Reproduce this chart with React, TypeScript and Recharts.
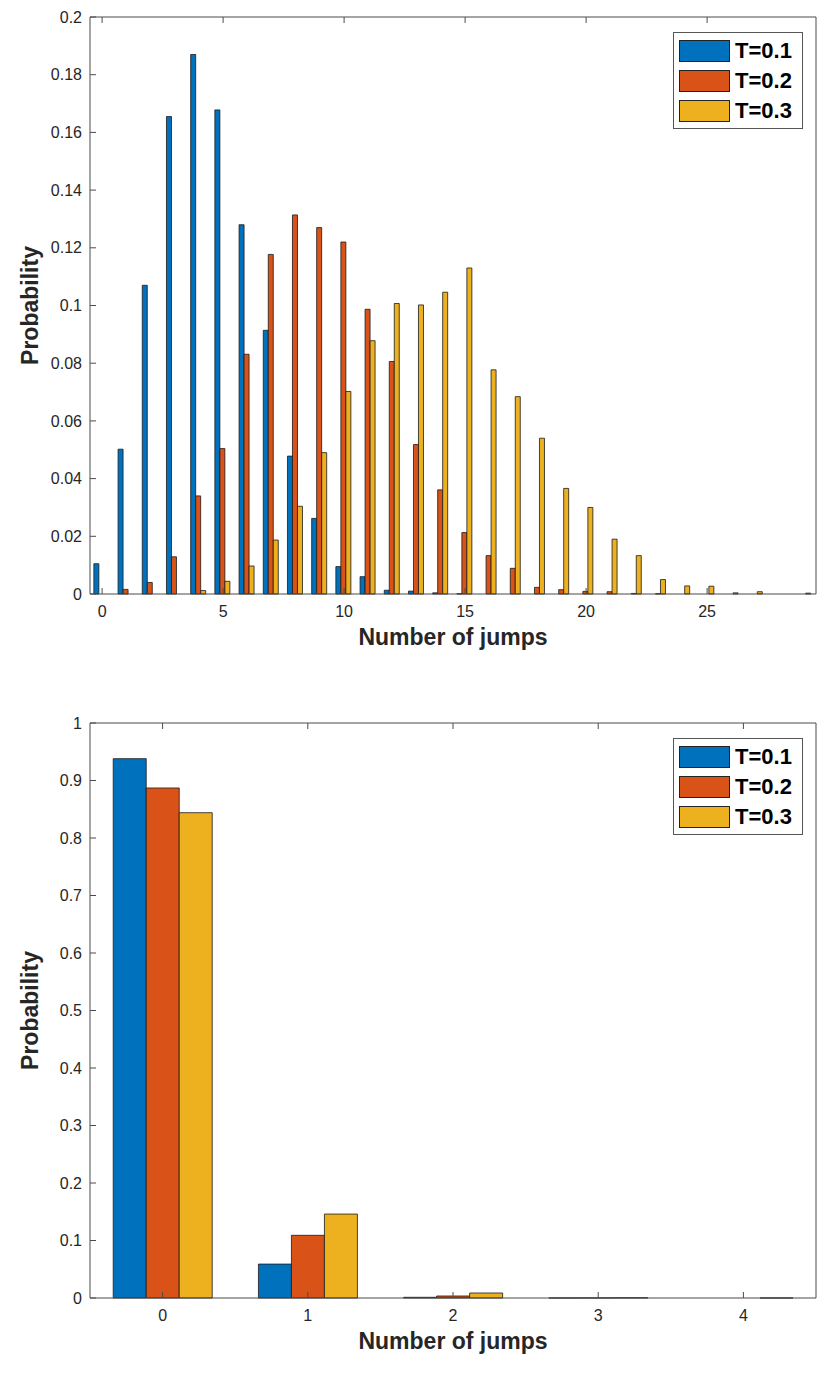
import React from "react";
import { BarChart, Bar, XAxis, YAxis, Legend, Label } from "recharts";

// number of jumps on the x axis
const jumpsTop = [
  0, 1, 2, 3, 4, 5, 6, 7, 8, 9, 10, 11, 12, 13, 14, 15, 16, 17, 18, 19, 20,
  21, 22, 23, 24, 25, 26, 27, 28, 29,
];
const topT1 = [
  0.0105, 0.0502, 0.107, 0.1655, 0.187, 0.1678, 0.128, 0.0914, 0.0478, 0.0262,
  0.0095, 0.006, 0.0013, 0.001, 0.0004, 0.0001, 0, 0, 0, 0, 0, 0, 0, 0, 0, 0,
  0, 0, 0, 0,
];
const topT2 = [
  0, 0.0016, 0.004, 0.0129, 0.034, 0.0504, 0.0831, 0.1177, 0.1314, 0.127,
  0.122, 0.0987, 0.0806, 0.0518, 0.0361, 0.0213, 0.0133, 0.0089, 0.0023,
  0.0015, 0.0009, 0.0008, 0.0002, 0.0001, 0, 0, 0, 0, 0, 0,
];
const topT3 = [
  0, 0, 0, 0, 0.0012, 0.0044, 0.0097, 0.0187, 0.0304, 0.049, 0.0702, 0.0878,
  0.1007, 0.1002, 0.1046, 0.113, 0.0777, 0.0684, 0.054, 0.0366, 0.03, 0.019,
  0.0133, 0.005, 0.0028, 0.0027, 0.0004, 0.0008, 0, 0.0003,
];
const topYTicks = [0, 0.02, 0.04, 0.06, 0.08, 0.1, 0.12, 0.14, 0.16, 0.18, 0.2];

const jumpsBottom = [0, 1, 2, 3, 4];
const bottomT1 = [0.938, 0.059, 0.0012, 0.0001, 0];
const bottomT2 = [0.887, 0.109, 0.0035, 0.0002, 0];
const bottomT3 = [0.844, 0.146, 0.0087, 0.0005, 0.0001];
const bottomYTicks = [0, 0.1, 0.2, 0.3, 0.4, 0.5, 0.6, 0.7, 0.8, 0.9, 1];

const seriesNames = ["T=0.1", "T=0.2", "T=0.3"];
const seriesKeys = ["t1", "t2", "t3"];
const seriesColors = ["#0072BD", "#D95319", "#EDB120"];

const FONT = '"Liberation Sans", Arial, Helvetica, sans-serif';
const AXIS = "#4a4a4a";
const tickStyle = { fill: "#262626", fontSize: 16, fontFamily: FONT };

const fmt = (v: number) => String(Number(v.toFixed(2)));
const blank = () => "";

const LegendBox = () => (
  <div
    style={{
      width: 130,
      boxSizing: "border-box",
      border: "1px solid #555",
      background: "#fff",
      padding: "3px 0 2px 5px",
    }}
  >
    {seriesNames.map((name, i) => (
      <div key={name} style={{ display: "flex", alignItems: "center", height: 30 }}>
        <span
          style={{
            width: 51,
            height: 22,
            boxSizing: "border-box",
            background: seriesColors[i],
            border: "1px solid #222",
          }}
        />
        <span
          style={{
            marginLeft: 5,
            fontFamily: FONT,
            fontWeight: "bold",
            fontSize: 22,
            color: "#000",
            lineHeight: "22px",
          }}
        >
          {name}
        </span>
      </div>
    ))}
  </div>
);

// axis titles, placed from the axis viewBox
const xTitle = (props: any) => {
  const { x, y, width } = props.viewBox;
  return (
    <text
      x={x + width / 2}
      y={y + 51}
      textAnchor="middle"
      fontFamily={FONT}
      fontWeight="bold"
      fontSize={23}
      fill="#262626"
    >
      Number of jumps
    </text>
  );
};

const yTitle = (props: any) => {
  const { x, y, width, height } = props.viewBox;
  const tx = x + width - 52;
  const ty = y + height / 2;
  return (
    <text
      x={tx}
      y={ty}
      transform={`rotate(-90, ${tx}, ${ty})`}
      textAnchor="middle"
      fontFamily={FONT}
      fontWeight="bold"
      fontSize={23}
      fill="#262626"
    >
      Probability
    </text>
  );
};

type ChartProps = {
  jumps: number[];
  t1: number[];
  t2: number[];
  t3: number[];
  yTicks: number[];
  xInterval: number;
  height: number;
  bottom: number;
};

function JumpChart({ jumps, t1, t2, t3, yTicks, xInterval, height, bottom }: ChartProps) {
  const rows = jumps.map((j, i) => ({ jumps: j, t1: t1[i], t2: t2[i], t3: t3[i] }));
  const yMax = yTicks[yTicks.length - 1];
  return (
    <BarChart
      width={831}
      height={height}
      data={rows}
      margin={{ top: 7, right: 5, bottom: bottom - 30, left: 30 }}
      barCategoryGap="16%"
      barGap={0}
    >
      <XAxis
        dataKey="jumps"
        height={30}
        interval={xInterval}
        tickSize={-6}
        tickMargin={18}
        tick={tickStyle}
        axisLine={{ stroke: AXIS }}
        tickLine={{ stroke: AXIS }}
      >
        <Label content={xTitle} />
      </XAxis>
      <XAxis
        xAxisId="top"
        orientation="top"
        dataKey="jumps"
        height={10}
        interval={xInterval}
        tickSize={-6}
        tickFormatter={blank}
        axisLine={{ stroke: AXIS }}
        tickLine={{ stroke: AXIS }}
      />
      <YAxis
        type="number"
        domain={[0, yMax]}
        ticks={yTicks}
        width={60}
        tickSize={-6}
        tickMargin={14}
        tickFormatter={fmt}
        tick={tickStyle}
        axisLine={{ stroke: AXIS }}
        tickLine={{ stroke: AXIS }}
      >
        <Label content={yTitle} />
      </YAxis>
      <YAxis
        yAxisId="right"
        orientation="right"
        type="number"
        domain={[0, yMax]}
        ticks={yTicks}
        width={10}
        tickSize={-6}
        tickFormatter={blank}
        axisLine={{ stroke: AXIS }}
        tickLine={{ stroke: AXIS }}
      />
      {seriesKeys.map((k, i) => (
        <Bar
          key={k}
          dataKey={k}
          name={seriesNames[i]}
          fill={seriesColors[i]}
          stroke="#1a1a1a"
          strokeWidth={0.8}
          isAnimationActive={false}
        />
      ))}
      <Legend
        layout="vertical"
        verticalAlign="middle"
        align="center"
        content={LegendBox}
        wrapperStyle={{ left: 673, top: 32, width: 130 }}
      />
    </BarChart>
  );
}

export default function App() {
  return (
    <div
      style={{
        position: "absolute",
        left: 0,
        top: 0,
        width: 831,
        height: 1376,
        background: "#fff",
      }}
    >
      <JumpChart
        jumps={jumpsTop}
        t1={topT1}
        t2={topT2}
        t3={topT3}
        yTicks={topYTicks}
        xInterval={4}
        height={706}
        bottom={112}
      />
      <JumpChart
        jumps={jumpsBottom}
        t1={bottomT1}
        t2={bottomT2}
        t3={bottomT3}
        yTicks={bottomYTicks}
        xInterval={0}
        height={670}
        bottom={78}
      />
    </div>
  );
}
